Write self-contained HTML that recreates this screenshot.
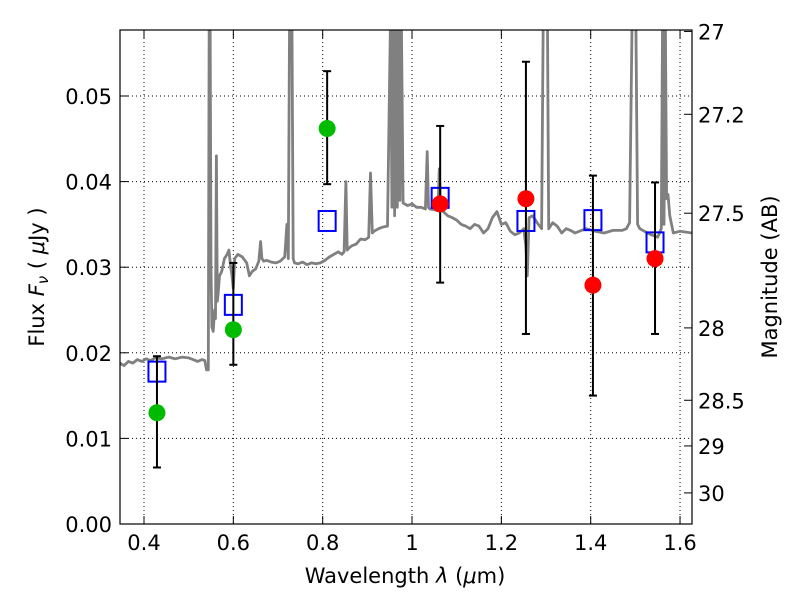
<!DOCTYPE html>
<html><head><meta charset="utf-8"><style>
body{margin:0;background:#fff;}
svg text{font-family:"DejaVu Sans","Liberation Sans",sans-serif;font-size:21px;fill:#000;}
</style></head><body>
<svg id="c" width="800" height="600" xmlns="http://www.w3.org/2000/svg">
<defs><clipPath id="clip"><rect x="120" y="30" width="572" height="494"/></clipPath></defs>
<rect x="0" y="0" width="800" height="600" fill="#fff"/>
<g id="grid"></g>
<g id="spec" clip-path="url(#clip)"></g>
<g id="marks"></g>
<rect x="120" y="30" width="572" height="494" fill="none" stroke="#000" stroke-width="1.2"/>
<g id="axes"></g>
<text x="405" y="583" text-anchor="middle">Wavelength  <tspan font-style="italic">λ</tspan> (<tspan font-style="italic">μ</tspan>m)</text>
<text transform="translate(44,277) rotate(-90)" text-anchor="middle">Flux  <tspan font-style="italic">F<tspan font-size="15" dy="4">ν</tspan></tspan><tspan dy="-4">  (  </tspan><tspan font-style="italic">μ</tspan>Jy )</text>
<text transform="translate(777,277) rotate(-90)" text-anchor="middle">Magnitude (AB)</text>
</svg>
<script>
const xTicks=[0.4,0.6,0.8,1.0,1.2,1.4,1.6];
const xTickLabels=["0.4","0.6","0.8","1","1.2","1.4","1.6"];
const yTicks=[0,0.01,0.02,0.03,0.04,0.05];
const yTickLabels=["0.00","0.01","0.02","0.03","0.04","0.05"];
const magTicks=[27,27.2,27.5,28,28.5,29,30];
const magTickLabels=["27","27.2","27.5","28","28.5","29","30"];
const greenX=[0.429,0.6,0.81];
const greenY=[0.013,0.0227,0.0462];
const greenLo=[0.0066,0.0186,0.0397];
const greenHi=[0.0196,0.0305,0.0529];
const redX=[1.063,1.255,1.405,1.544];
const redY=[0.0374,0.038,0.0279,0.031];
const redLo=[0.0282,0.0222,0.015,0.0222];
const redHi=[0.0465,0.054,0.0407,0.0399];
const modelX=[0.429,0.6,0.81,1.063,1.255,1.405,1.544];
const modelY=[0.0178,0.0256,0.0354,0.0381,0.0354,0.0355,0.0329];
const specL=[0.346,0.355,0.365,0.375,0.385,0.395,0.405,0.415,0.425,0.44,0.455,0.47,0.485,0.5,0.51,0.52,0.53,0.536,0.54,0.544,0.546,0.548,0.550,0.552,0.555,0.558,0.560,0.562,0.564,0.566,0.569,0.574,0.58,0.586,0.59,0.594,0.597,0.6,0.603,0.61,0.62,0.63,0.636,0.642,0.65,0.657,0.661,0.664,0.668,0.675,0.685,0.695,0.705,0.715,0.72,0.723,0.726,0.728,0.731,0.734,0.737,0.745,0.755,0.765,0.775,0.785,0.795,0.805,0.815,0.825,0.835,0.843,0.848,0.852,0.855,0.858,0.865,0.875,0.885,0.895,0.903,0.907,0.911,0.915,0.925,0.935,0.945,0.952,0.955,0.958,0.961,0.964,0.967,0.970,0.973,0.976,0.980,0.99,1.0,1.01,1.02,1.03,1.034,1.037,1.04,1.05,1.058,1.061,1.064,1.07,1.08,1.09,1.1,1.11,1.12,1.13,1.14,1.15,1.16,1.17,1.18,1.19,1.2,1.21,1.22,1.23,1.24,1.25,1.255,1.258,1.262,1.27,1.28,1.29,1.294,1.297,1.303,1.306,1.315,1.325,1.335,1.345,1.355,1.365,1.375,1.39,1.41,1.43,1.45,1.47,1.48,1.487,1.493,1.497,1.501,1.505,1.51,1.52,1.535,1.55,1.558,1.561,1.564,1.567,1.57,1.573,1.577,1.585,1.6,1.627];
const specF=[0.0188,0.0185,0.019,0.0188,0.0192,0.019,0.0193,0.0191,0.0194,0.0193,0.0195,0.0193,0.0195,0.0194,0.0192,0.019,0.0192,0.0191,0.018,0.018,0.06,0.06,0.03,0.023,0.0225,0.025,0.024,0.043,0.026,0.027,0.029,0.0295,0.031,0.0315,0.032,0.03,0.029,0.0275,0.031,0.0315,0.0312,0.0305,0.029,0.0295,0.0298,0.0307,0.033,0.031,0.0307,0.0308,0.0306,0.0305,0.0307,0.0312,0.035,0.031,0.06,0.06,0.06,0.031,0.0305,0.0304,0.0306,0.0303,0.0305,0.0304,0.0305,0.0308,0.0312,0.0315,0.0318,0.0315,0.0318,0.040,0.032,0.0322,0.0325,0.0327,0.0333,0.0332,0.0335,0.041,0.034,0.0342,0.0345,0.0347,0.0348,0.06,0.037,0.06,0.036,0.06,0.037,0.06,0.0378,0.06,0.0375,0.0372,0.0374,0.037,0.037,0.0368,0.0435,0.037,0.0368,0.0367,0.0366,0.0415,0.0368,0.0365,0.036,0.0358,0.0355,0.035,0.0348,0.0345,0.035,0.0348,0.034,0.0345,0.0358,0.0365,0.035,0.0352,0.0342,0.0338,0.034,0.0345,0.0325,0.029,0.0358,0.036,0.0352,0.0345,0.06,0.06,0.06,0.0345,0.0352,0.0348,0.034,0.0345,0.0343,0.034,0.0342,0.0345,0.0342,0.034,0.0343,0.0343,0.0345,0.0352,0.06,0.06,0.06,0.035,0.0345,0.0342,0.0338,0.0335,0.0345,0.06,0.035,0.06,0.038,0.0385,0.036,0.034,0.0342,0.034];
const NS="http://www.w3.org/2000/svg";
function X(v){return 144+(v-0.4)*446.7;}
function Y(v){return 524-v*8560;}
function magY(m){return Y(Math.pow(10,(23.9-m)/2.5));}
function mk(tag,attrs,parent){const e=document.createElementNS(NS,tag);for(const k in attrs)e.setAttribute(k,attrs[k]);document.getElementById(parent).appendChild(e);return e;}
xTicks.forEach((v,i)=>{
 let g=mk('line',{x1:X(v),x2:X(v),y1:30,y2:524,stroke:'#000','stroke-dasharray':'1,3','stroke-width':1},'grid');
 
 
 mk('line',{x1:X(v),x2:X(v),y1:524,y2:516,stroke:'#000'},'axes');
 mk('line',{x1:X(v),x2:X(v),y1:30,y2:38,stroke:'#000'},'axes');
 let t=mk('text',{x:X(v),y:550,'text-anchor':'middle'},'axes');t.textContent=xTickLabels[i];
 
 
});
yTicks.forEach((v,i)=>{
 if(v>0){let g=mk('line',{x1:120,x2:692,y1:Y(v),y2:Y(v),stroke:'#000','stroke-dasharray':'1,3','stroke-width':1},'grid');
 
 }
 mk('line',{x1:120,x2:128,y1:Y(v),y2:Y(v),stroke:'#000'},'axes');
 let t=mk('text',{x:112,y:Y(v)+8,'text-anchor':'end'},'axes');t.textContent=yTickLabels[i];
 
 
});
magTicks.forEach((m,i)=>{
 const y=magY(m);
 mk('line',{x1:692,x2:684,y1:y,y2:y,stroke:'#000'},'axes');
 let t=mk('text',{x:698,y:y+8,'text-anchor':'start'},'axes');t.textContent=magTickLabels[i];
 
 
});
let d=specL.map((l,i)=>(i?'L':'M')+X(l).toFixed(1)+','+Y(specF[i]).toFixed(1)).join(' ');
let sp=mk('path',{d:d,fill:'none',stroke:'#808080','stroke-width':2.8,'stroke-linejoin':'round'},'spec');


function errbar(x,lo,hi){
 mk('line',{x1:X(x),x2:X(x),y1:Y(lo),y2:Y(hi),stroke:'#000','stroke-width':2},'marks');
 mk('line',{x1:X(x)-4,x2:X(x)+4,y1:Y(lo),y2:Y(lo),stroke:'#000','stroke-width':2},'marks');
 mk('line',{x1:X(x)-4,x2:X(x)+4,y1:Y(hi),y2:Y(hi),stroke:'#000','stroke-width':2},'marks');
}
modelX.forEach((x,i)=>{
 let r=mk('rect',{x:X(x)-8.5,y:Y(modelY[i])-10,width:17,height:20,fill:'none',stroke:'#0000ff','stroke-width':2},'marks');
 
 
});
greenX.forEach((x,i)=>{
 errbar(x,greenLo[i],greenHi[i]);
 let c=mk('circle',{cx:X(x),cy:Y(greenY[i]),r:8.5,fill:'#00bb00'},'marks');
 
 
});
redX.forEach((x,i)=>{
 errbar(x,redLo[i],redHi[i]);
 let c=mk('circle',{cx:X(x),cy:Y(redY[i]),r:8.5,fill:'#ff0000'},'marks');
 
 
});
</script>
</body></html>
